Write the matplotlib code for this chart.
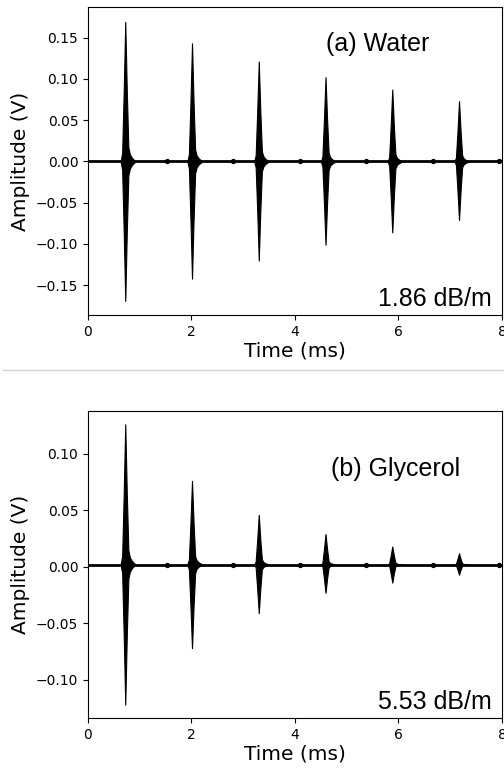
#!/usr/bin/env python3
"""Pulse-echo traces in water and glycerol."""

import matplotlib

matplotlib.use("Agg")
import matplotlib.pyplot as plt
import numpy as np

# echo arrival times (ms) and peak amplitudes (V)
echo_times = [0.72, 2.01, 3.30, 4.59, 5.88, 7.17]
water_pos = [0.169, 0.143, 0.121, 0.102, 0.087, 0.073]
water_neg = [0.169, 0.142, 0.120, 0.101, 0.086, 0.071]
glycerol_pos = [0.124, 0.074, 0.044, 0.027, 0.016, 0.010]
glycerol_neg = [0.124, 0.074, 0.043, 0.025, 0.016, 0.009]
water_base = 0.0
glycerol_base = 0.002

# shape of one echo envelope (offset from arrival in ms, fraction of peak)
burst_offsets = [-0.09, -0.06, -0.03, 0.0, 0.03, 0.06, 0.09, 0.13, 0.20]
burst_profile = [0.0, 0.06, 0.5, 1.0, 0.5, 0.10, 0.05, 0.025, 0.0]

# small reverberation blobs on the baseline
ripple_times = [1.52, 2.80, 4.09, 5.38, 6.66, 7.95]

attenuation = ["1.86 dB/m", "5.53 dB/m"]
titles = ["(a) Water", "(b) Glycerol"]

plt.rcParams.update({
    "xtick.labelsize": 10,
    "ytick.labelsize": 10,
    "axes.labelsize": 14.5,
})

fig = plt.figure(figsize=(5.04, 7.69), dpi=100)
fig.patch.set_facecolor("white")
ax_a = fig.add_axes([0.1746, 0.5904, 0.8214, 0.4005])
ax_b = fig.add_axes([0.1746, 0.0659, 0.8214, 0.4000])

# thin separator between the two saved panels
fig.add_artist(plt.Line2D([0.006, 1.0], [0.5189, 0.5189], transform=fig.transFigure,
                          color="#d4d4d4", lw=1.0))

panels = [
    (ax_a, water_pos, water_neg, water_base, (-0.186, 0.187),
     [-0.15, -0.10, -0.05, 0.0, 0.05, 0.10, 0.15], (0.70, 0.88)),
    (ax_b, glycerol_pos, glycerol_neg, glycerol_base, (-0.134, 0.138),
     [-0.10, -0.05, 0.0, 0.05, 0.10], (0.744, 0.81)),
]

offs = np.array(burst_offsets)
prof = np.array(burst_profile)
for i, (ax, pos, neg, base, ylim, yticks, title_xy) in enumerate(panels):
    ax.axhline(base, color="black", lw=2.0, zorder=2)
    ax.plot(ripple_times, [base] * len(ripple_times), "o", color="black", ms=2.8, zorder=2)
    for t, p, n in zip(echo_times, pos, neg):
        ax.fill_between(t + offs, base - n * prof, base + p * prof,
                        color="black", lw=0.8, edgecolor="black", zorder=3)
    ax.set_xlim(0, 8)
    ax.set_ylim(*ylim)
    ax.set_xticks([0, 2, 4, 6, 8])
    ax.set_yticks(yticks)
    ax.set_yticklabels([f"{v:.2f}".replace("-", "\u2212") for v in yticks])
    ax.set_xlabel("Time (ms)", labelpad=2)
    ax.set_ylabel("Amplitude (V)", labelpad=4)
    ax.text(title_xy[0], title_xy[1], titles[i], transform=ax.transAxes,
            ha="center", va="center", fontsize=18, family="Liberation Sans")
    ax.text(0.975, 0.03, attenuation[i], transform=ax.transAxes,
            ha="right", va="baseline", fontsize=18, family="Liberation Sans")

fig.savefig("out.png", dpi=100)
